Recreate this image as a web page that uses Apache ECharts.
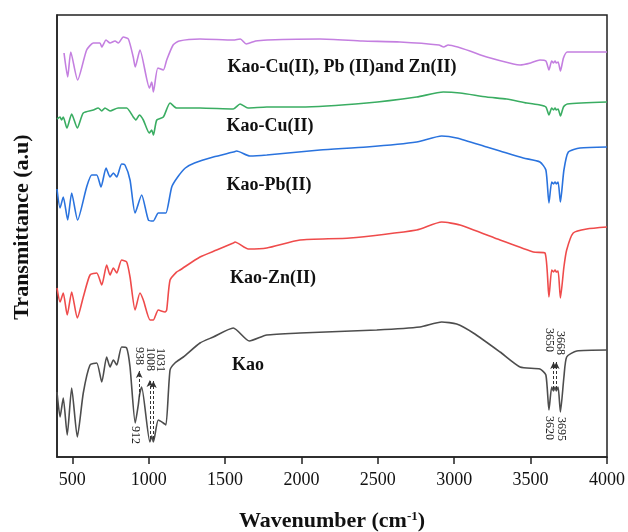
<!DOCTYPE html>
<html>
<head>
<meta charset="utf-8">
<script src="https://cdn.jsdelivr.net/npm/echarts@6/dist/echarts.min.js"></script>
<style>html,body{margin:0;padding:0;background:#fff}#main{width:628px;height:532px}</style>
</head>
<body>
<div id="main"></div>
<script>
var myChart = echarts.init(document.getElementById('main'));

// FTIR spectra, transmittance in arbitrary units (curves stacked, offset by the original plot)
const seriesNames = ['Kao-Cu(II), Pb (II)and Zn(II)', 'Kao-Cu(II)', 'Kao-Pb(II)', 'Kao-Zn(II)', 'Kao'];

const wnMix = [446, 470, 490, 535, 594, 638, 681, 693, 721, 747, 780, 801, 834, 867, 899, 912, 943, 1005, 1020, 1031, 1060, 1096, 1118, 1160, 1200, 1336, 1554, 1600, 1639, 1700, 1776, 2121, 2400, 2645, 2900, 2931, 2960, 3213, 3387, 3431, 3500, 3561, 3600, 3620, 3638, 3650, 3660, 3668, 3680, 3695, 3715, 3740, 4000];
const tMix = [404, 380, 405, 377, 407, 414, 414, 410, 417, 414, 416, 414, 420, 418, 400, 390, 407, 369, 375, 365, 389, 387, 397, 412, 416, 418, 417, 418, 413, 416, 417, 418, 416, 415, 412, 410, 412, 400, 393, 392, 394, 397, 396, 387, 396, 394, 396, 394, 395, 386, 399, 405, 405];

const wnCu = [400, 420, 430, 441, 465, 496, 533, 572, 638, 670, 693, 714, 747, 800, 856, 899, 917, 939, 965, 1004, 1020, 1031, 1053, 1096, 1140, 1183, 1249, 1336, 1554, 1598, 1650, 1773, 1991, 2427, 2754, 2928, 3038, 3213, 3343, 3475, 3561, 3600, 3620, 3638, 3650, 3660, 3668, 3680, 3695, 3715, 3740, 4000];
const tCu = [338, 340, 337, 340, 329, 343, 329, 344, 347, 349, 346, 349, 346, 349, 349, 340, 337, 342, 337, 324, 327, 322, 337, 340, 354, 349, 349, 349, 348, 353, 349, 350, 350, 354, 360, 365, 364, 360, 358, 354, 352, 350, 342, 349, 347, 349, 347, 348, 341, 350, 353, 355];

const wnPb = [400, 420, 441, 470, 496, 535, 594, 627, 660, 688, 721, 747, 769, 791, 823, 845, 878, 911, 954, 998, 1030, 1063, 1096, 1113, 1151, 1190, 1240, 1300, 1423, 1554, 1576, 1663, 1773, 2121, 2427, 2754, 2918, 3016, 3213, 3300, 3452, 3561, 3600, 3620, 3638, 3650, 3660, 3668, 3680, 3695, 3718, 3747, 3823, 4000];
const tPb = [268, 249, 260, 237, 264, 237, 270, 282, 282, 270, 289, 280, 284, 280, 293, 292, 277, 244, 262, 237, 236, 244, 244, 244, 270, 280, 289, 294, 300, 305, 306, 301, 302, 307, 310, 315, 321, 319, 310, 306, 299, 295, 287, 254, 275, 273, 275, 273, 275, 255, 287, 305, 309, 310];

const wnZn = [400, 420, 441, 467, 496, 533, 572, 616, 660, 693, 725, 747, 769, 791, 823, 856, 878, 911, 943, 965, 1009, 1030, 1063, 1107, 1118, 1140, 1183, 1205, 1336, 1445, 1554, 1565, 1652, 1773, 1991, 2318, 2754, 2918, 3038, 3300, 3518, 3594, 3620, 3638, 3650, 3660, 3668, 3680, 3695, 3718, 3736, 3779, 3867, 4000];
const tZn = [169, 155, 164, 142, 165, 139, 160, 182, 184, 172, 192, 182, 189, 184, 197, 195, 180, 147, 164, 157, 137, 137, 147, 145, 147, 177, 185, 187, 200, 207, 214, 215, 208, 209, 217, 219, 227, 235, 232, 217, 205, 204, 160, 187, 185, 187, 185, 186, 159, 190, 207, 224, 228, 230];

const wnKao = [400, 420, 441, 467, 496, 533, 572, 616, 660, 693, 725, 747, 769, 791, 823, 856, 878, 912, 932, 940, 954, 1008, 1020, 1031, 1063, 1096, 1113, 1140, 1172, 1227, 1336, 1423, 1554, 1659, 1773, 1991, 2493, 2776, 2918, 3016, 3125, 3300, 3431, 3561, 3600, 3620, 3638, 3650, 3660, 3668, 3680, 3695, 3718, 3736, 3802, 4000];
const tKao = [65, 40, 59, 22, 69, 20, 64, 92, 94, 75, 100, 90, 97, 92, 110, 109, 90, 34, 52, 62, 70, 15, 21, 15, 37, 34, 32, 87, 94, 100, 114, 120, 129, 116, 122, 124, 127, 130, 135, 133, 124, 105, 90, 88, 82, 47, 70, 66, 70, 66, 70, 45, 80, 100, 106, 107];

const xTicks = [500, 1000, 1500, 2000, 2500, 3000, 3500, 4000];

// peak annotations on the Kao spectrum
const peakLabels = ['912', '938', '1008', '1031', '3620', '3650', '3668', '3695'];

const colors = ['#c47fe0', '#3aad62', '#2a73de', '#ef4b4b', '#4d4d4d'];
const serif = "'Times New Roman', 'Liberation Serif', serif";

function pairs(wn, t) {
    return wn.map((w, i) => [w, t[i]]);
}
const allData = [pairs(wnMix, tMix), pairs(wnCu, tCu), pairs(wnPb, tPb), pairs(wnZn, tZn), pairs(wnKao, tKao)];

var option = {
    backgroundColor: '#fff',
    animation: false,
    grid: {
        left: 57, right: 21, top: 15, bottom: 75,
        outerBoundsMode: 'none',
        containLabel: false,
        show: true, borderColor: '#222', borderWidth: 1.5
    },
    xAxis: {
        type: 'value',
        min: 400,
        max: 4000,
        name: 'Wavenumber (cm{sup|-1})',
        nameLocation: 'middle',
        nameGap: 53,
        nameTextStyle: {
            fontFamily: serif, fontSize: 22, fontWeight: 'bold', color: '#111',
            rich: { sup: { fontFamily: serif, fontSize: 13, fontWeight: 'bold', verticalAlign: 'top', padding: [0, 0, 10, 0], color: '#111' } }
        },
        axisLine: { lineStyle: { color: '#222', width: 1.5 } },
        axisTick: { customValues: xTicks, length: 7, lineStyle: { color: '#222', width: 1.5 } },
        axisLabel: {
            customValues: xTicks, fontFamily: serif, fontSize: 18, color: '#111', margin: 14,
            formatter: v => String(v)
        },
        splitLine: { show: false }
    },
    yAxis: {
        type: 'value',
        min: 0,
        max: 442,
        name: 'Transmittance (a.u)',
        nameLocation: 'middle',
        nameGap: 24,
        nameTextStyle: { fontFamily: serif, fontSize: 22, fontWeight: 'bold', color: '#111', padding: [0, 0, 0, 18] },
        axisLine: { show: true, lineStyle: { color: '#222', width: 1.5 } },
        axisTick: { show: false },
        axisLabel: { show: false },
        splitLine: { show: false }
    },
    series: allData.map((d, i) => ({
        name: seriesNames[i],
        type: 'line',
        data: d,
        showSymbol: false,
        smooth: 0.2,
        lineStyle: { color: colors[i], width: 1.6 },
        itemStyle: { color: colors[i] },
        markLine: i === 4 ? {
            silent: true,
            symbol: ['none', 'arrow'],
            symbolSize: [5, 7],
            label: { show: false },
            lineStyle: { type: [3, 2], color: '#333', width: 1 },
            data: [
                [{ coord: [938, 60] }, { coord: [938, 86] }],
                [{ coord: [1008, 18] }, { coord: [1008, 77] }],
                [{ coord: [1031, 18] }, { coord: [1031, 76] }],
                [{ coord: [3650, 68] }, { coord: [3650, 95] }],
                [{ coord: [3668, 68] }, { coord: [3668, 95] }]
            ]
        } : undefined
    }))
};

myChart.setOption(option);

// text labels placed in data coordinates
const nameAt = [[2265, 390], [1794, 331], [1788, 272], [1814, 179], [1650, 92]];
const peakAt = [[910, 22], [935, 101], [1009, 98], [1075, 97], [3620, 29], [3620, 117], [3696, 114], [3702, 28]];

const graphics = [];
seriesNames.forEach((n, i) => {
    const p = myChart.convertToPixel({ gridIndex: 0 }, nameAt[i]);
    graphics.push({
        type: 'text', x: p[0], y: p[1],
        style: { text: n, fontFamily: serif, fontSize: 18, fontWeight: 'bold', fill: '#111', align: 'center', verticalAlign: 'middle' }
    });
});
peakLabels.forEach((n, i) => {
    const p = myChart.convertToPixel({ gridIndex: 0 }, peakAt[i]);
    graphics.push({
        type: 'text', x: p[0], y: p[1], rotation: -Math.PI / 2,
        style: { text: n, fontFamily: serif, fontSize: 12, fill: '#222', align: 'center', verticalAlign: 'middle' }
    });
});
myChart.setOption({ graphic: graphics });
</script>
</body>
</html>
